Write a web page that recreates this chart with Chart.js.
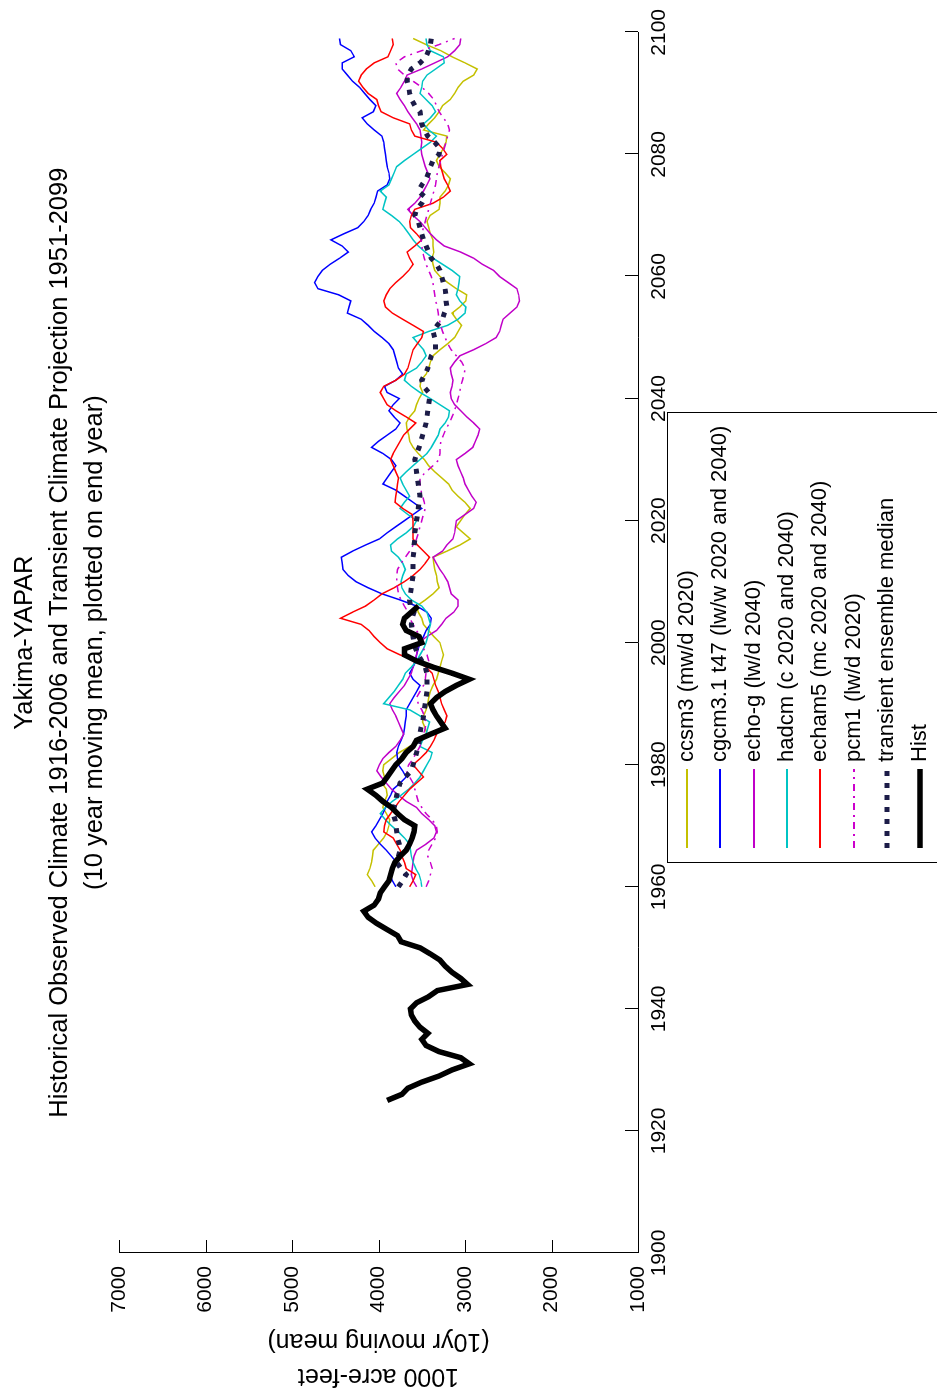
<!DOCTYPE html>
<html>
<head>
<meta charset="utf-8">
<title>Yakima-YAPAR</title>
<script src="https://cdn.jsdelivr.net/npm/chart.js@4/dist/chart.umd.min.js"></script>
<style>
  html, body { margin: 0; padding: 0; background: #fff; }
  #page { width: 937px; height: 1393px; overflow: hidden; position: relative; }
  /* the figure is laid out landscape and turned a quarter counter-clockwise */
  #turn { position: absolute; left: 0; top: 0; width: 1393px; height: 937px;
          transform-origin: 0 0; transform: translate(0, 1393px) rotate(-90deg); }
</style>
</head>
<body>
<div id="page"><div id="turn"><canvas id="chart" width="1393" height="937"></canvas></div></div>
<script>
// observed record, 10 yr moving mean, 1925-2006
const histStart = 1925;
const hist = [
  3900, 3730, 3660, 3500, 3300, 3150, 2950, 3050, 3300, 3450,
  3500, 3430, 3520, 3580, 3620, 3630, 3560, 3420, 3320, 2970,
  3050, 3150, 3230, 3290, 3400, 3520, 3740, 3780, 3900, 4020,
  4120, 4170, 4050, 4000, 3980, 3930, 3880, 3860, 3840, 3810,
  3750, 3680, 3640, 3610, 3590, 3580, 3700, 3780, 3850, 3950,
  4030, 4130, 3950, 3900, 3850, 3800, 3730, 3680, 3600, 3560,
  3400, 3230, 3280, 3330, 3370, 3400, 3330, 3230, 3100, 2950,
  3150, 3370, 3560, 3700, 3700, 3500, 3530, 3680, 3720, 3700,
  3620, 3540
];

// transient projections, 1960-2099
const projStart = 1960;
const ccsm3 = [
  4040, 4080, 4130, 4100, 4080, 4070, 4060, 4000, 3940, 3900,
  3880, 3870, 3910, 3950, 3930, 3900, 3910, 3960, 3930, 3950,
  3940, 3850, 3760, 3640, 3520, 3440, 3460, 3490, 3480, 3450,
  3430, 3420, 3400, 3370, 3330, 3310, 3290, 3270, 3250, 3270,
  3290, 3360, 3420, 3480, 3500, 3540, 3560, 3460, 3370, 3300,
  3320, 3330, 3350, 3360, 3370, 3210, 3060, 2940, 3020, 3100,
  3050, 3000, 2940, 3000, 3080, 3150, 3190, 3270, 3350, 3420,
  3470, 3540, 3600, 3640, 3650, 3670, 3680, 3640, 3580, 3560,
  3530, 3490, 3520, 3510, 3450, 3420, 3400, 3370, 3290, 3200,
  3120, 3080, 3040, 3100, 3150, 3060, 2990, 2980, 3100, 3200,
  3290, 3350, 3370, 3380, 3360, 3370, 3370, 3400, 3420, 3440,
  3405, 3300, 3290, 3290, 3230, 3190, 3170, 3230, 3300, 3330,
  3290, 3250, 3220, 3210, 3480, 3420, 3350, 3300, 3260, 3170,
  3120, 3080, 3020, 2900, 2860, 3000, 3150, 3280, 3450, 3600
];
const cgcm31 = [
  3800, 3840, 3870, 3830, 3790, 3850, 3910, 3980, 4040, 4080,
  4030, 3990, 3950, 3920, 3900, 3860, 3830, 3750, 3680, 3720,
  3770, 3780, 3790, 3770, 3740, 3710, 3700, 3690, 3680, 3680,
  3640, 3600, 3560, 3520, 3600, 3640, 3600, 3570, 3560, 3540,
  3520, 3480, 3450, 3400, 3390, 3440, 3560, 3750, 3960, 4120,
  4260, 4350, 4410, 4420, 4430, 4300, 4150, 3990, 3900, 3800,
  3700, 3600, 3500, 3600, 3700, 3800, 3950, 3900, 3850, 3800,
  3850, 3950, 4080, 4000, 3900, 3800, 3750, 3820, 3880, 3830,
  3760, 3900, 3930, 3800, 3720, 3770, 3790, 3810, 3830, 3880,
  3960, 4050, 4120, 4200, 4360, 4340, 4320, 4460, 4700, 4740,
  4700, 4650, 4560, 4450, 4350, 4420, 4550, 4400, 4240, 4170,
  4120, 4090, 4050, 4030, 4010, 3900, 3870, 3880, 3900, 3910,
  3920, 3930, 3940, 3960, 4050, 4130, 4190, 4060, 4030, 4100,
  4160, 4220, 4300, 4360, 4420, 4420, 4280, 4320, 4440, 4450
];
const echoG = [
  3560, 3600, 3620, 3610, 3600, 3590, 3560, 3450, 3360, 3330,
  3350, 3420, 3500, 3560, 3680, 3770, 3850, 3910, 3970, 4020,
  3990, 3950, 3880, 3800, 3750, 3710, 3740, 3770, 3800, 3840,
  3870, 3820, 3760, 3700, 3660, 3620, 3600, 3580, 3560, 3550,
  3540, 3440, 3330, 3270, 3220, 3130, 3080, 3080, 3160, 3180,
  3200, 3240, 3290, 3330, 3370, 3260, 3210, 3140, 3120, 3110,
  3100, 3000, 2900, 2870, 2920, 2960, 3000, 3020, 3050, 3080,
  3100, 3000, 2910, 2880, 2850, 2830, 2900, 2980, 3050, 3120,
  3160, 3170, 3150, 3140, 3160, 3170, 3120, 3060, 2900, 2760,
  2640, 2600, 2580, 2560, 2480, 2400, 2370, 2380, 2400, 2500,
  2600, 2670, 2800, 2900, 3050, 3240, 3330, 3400, 3460, 3520,
  3600, 3660, 3580, 3520, 3480, 3440, 3405, 3430, 3460, 3480,
  3500, 3510, 3500, 3510, 3520, 3560, 3610, 3660, 3700, 3750,
  3790, 3740, 3700, 3670, 3500, 3350, 3200, 3120, 3060, 3050
];
const hadcm = [
  3500, 3510, 3530, 3570, 3600, 3620, 3630, 3640, 3700, 3770,
  3850, 3920, 3980, 3920, 3840, 3740, 3650, 3580, 3520, 3480,
  3440, 3400, 3380, 3520, 3490, 3450, 3430, 3410, 3520, 3640,
  3940, 3880, 3820, 3770, 3720, 3690, 3620, 3560, 3520, 3480,
  3450, 3430, 3420, 3400, 3420, 3440, 3500, 3620, 3690, 3730,
  3740, 3720, 3690, 3720, 3770, 3850, 3860, 3780, 3680, 3600,
  3560, 3660, 3750, 3700, 3640, 3680, 3720, 3750, 3680, 3600,
  3520, 3440, 3390, 3350, 3310, 3290, 3230, 3190, 3180, 3290,
  3400, 3520, 3620, 3700, 3680, 3560, 3500, 3450, 3480, 3540,
  3600, 3420, 3200, 3080, 3000, 2990, 3060, 3100, 3080, 3070,
  3060, 3150, 3260, 3370, 3460, 3540, 3600, 3650, 3700, 3760,
  3850, 3950, 3930, 3910, 3980, 3880, 3850, 3820, 3790, 3700,
  3600, 3500, 3400, 3330, 3420, 3480, 3400, 3340, 3380, 3450,
  3520, 3500, 3490, 3440, 3340, 3240, 3250, 3400, 3440, 3450
];
const echam5 = [
  3640, 3600, 3570, 3680, 3700, 3730, 3750, 3790, 3830, 3940,
  3930, 3910, 3860, 3810, 3760, 3700, 3640, 3560, 3480, 3540,
  3600, 3520, 3450, 3400, 3360, 3330, 3280, 3230, 3210, 3240,
  3270, 3290, 3310, 3340, 3360, 3380, 3450, 3560, 3750, 3900,
  3980, 4050, 4110, 4200, 4440, 4300, 4150, 4050, 3960, 3820,
  3700, 3600, 3520, 3460, 3410, 3480, 3550, 3600, 3600, 3600,
  3600, 3610, 3720, 3810, 3800, 3790, 3780, 3770, 3800, 3830,
  3860, 3830, 3790, 3750, 3710, 3640, 3570, 3680, 3800, 3900,
  3940, 3980, 3940, 3800, 3700, 3660, 3640, 3620, 3600, 3550,
  3500, 3480, 3600, 3720, 3840, 3920, 3940, 3910, 3870, 3800,
  3720, 3650, 3600, 3640, 3670, 3580, 3500, 3560, 3630, 3640,
  3620, 3580, 3370, 3250, 3170, 3200, 3240, 3260, 3280, 3290,
  3210, 3260, 3330, 3580, 3620, 3640, 3830, 3970, 4000, 4020,
  4120, 4180, 4230, 4200, 4140, 4050, 3890, 3860, 3830, 3840
];
const pcm1 = [
  3450, 3420, 3400, 3380, 3400, 3430, 3420, 3380, 3340, 3320,
  3330, 3380, 3450, 3500, 3540, 3560, 3580, 3600, 3640, 3680,
  3650, 3600, 3560, 3520, 3500, 3480, 3460, 3450, 3470, 3500,
  3540, 3560, 3520, 3480, 3460, 3450, 3430, 3420, 3440, 3480,
  3500, 3520, 3560, 3600, 3640, 3660, 3700, 3740, 3770, 3780,
  3790, 3790, 3780, 3740, 3690, 3640, 3600, 3560, 3540, 3520,
  3500, 3480, 3460, 3470, 3490, 3510, 3520, 3520, 3450, 3370,
  3300, 3290, 3290, 3280, 3250, 3220, 3180, 3150, 3120, 3100,
  3080, 3060, 3050, 3030, 3010, 3000, 3040, 3100, 3160, 3200,
  3230, 3260, 3280, 3300, 3310, 3320, 3340, 3350, 3360, 3370,
  3390, 3420, 3450, 3470, 3490, 3500, 3510, 3500, 3480, 3460,
  3440, 3420, 3400, 3380, 3360, 3340, 3330, 3320, 3300, 3280,
  3260, 3240, 3220, 3200, 3180, 3200, 3250, 3300, 3330, 3360,
  3420, 3500, 3600, 3700, 3780, 3800, 3700, 3500, 3300, 3120
];
const median = [
  3770, 3720, 3680, 3740, 3790, 3770, 3750, 3760, 3780, 3790,
  3800, 3810, 3830, 3820, 3800, 3790, 3770, 3750, 3690, 3620,
  3600, 3580, 3560, 3540, 3530, 3520, 3510, 3490, 3480, 3470,
  3460, 3450, 3440, 3440, 3440, 3440, 3460, 3500, 3540, 3570,
  3590, 3600, 3610, 3620, 3610, 3590, 3630, 3640, 3630, 3620,
  3610, 3600, 3600, 3600, 3600, 3590, 3590, 3580, 3580, 3570,
  3560, 3550, 3540, 3530, 3520, 3530, 3540, 3550, 3560, 3570,
  3580, 3560, 3530, 3510, 3490, 3470, 3450, 3440, 3430, 3420,
  3410, 3420, 3480, 3500, 3460, 3430, 3410, 3390, 3340, 3340,
  3350, 3370, 3320, 3260, 3240, 3210, 3220, 3220, 3230, 3250,
  3270, 3290, 3330, 3390, 3420, 3450, 3480, 3500, 3520, 3540,
  3580, 3560, 3500, 3460, 3540, 3500, 3450, 3420, 3400, 3370,
  3300, 3290, 3350, 3430, 3470, 3500, 3510, 3520, 3580, 3620,
  3640, 3650, 3670, 3660, 3620, 3520, 3450, 3420, 3400, 3390
];

const yearTicks = [1900, 1920, 1940, 1960, 1980, 2000, 2020, 2040, 2060, 2080, 2100];
const valueTicks = [1000, 2000, 3000, 4000, 5000, 6000, 7000];

const FONT = "'Liberation Sans', Arial, sans-serif";

function series(start, values) {
  return values.map((v, i) => ({ x: start + i, y: v }));
}

function line(label, start, values, color, extra) {
  return Object.assign({
    label: label,
    data: series(start, values),
    borderColor: color,
    backgroundColor: color,
    borderWidth: 1.5,
    pointRadius: 0,
    tension: 0,
    fill: false
  }, extra || {});
}

// MATLAB style legend box hanging below the axes
const legendBox = {
  id: 'legendBox',
  afterDraw(chart) {
    const ctx = chart.ctx;
    const left = 530, top = 667, right = 980;
    ctx.save();
    ctx.fillStyle = '#fff';
    ctx.fillRect(left, top, right - left, 300);
    ctx.strokeStyle = '#000';
    ctx.lineWidth = 1;
    ctx.strokeRect(left + 0.5, top + 0.5, right - left, 300);
    ctx.font = '22px ' + FONT;
    ctx.textBaseline = 'middle';
    ctx.textAlign = 'left';
    chart.data.datasets.forEach((ds, i) => {
      const cy = Math.round(687 + i * 33.3);
      ctx.save();
      ctx.strokeStyle = ds.borderColor;
      ctx.lineWidth = Math.max(ds.borderWidth, 2);
      ctx.setLineDash(ds.borderDash || []);
      ctx.beginPath();
      ctx.moveTo(545, cy);
      ctx.lineTo(624, cy);
      ctx.stroke();
      ctx.restore();
      ctx.fillStyle = '#000';
      ctx.fillText(ds.label, 631, cy);
    });
    ctx.restore();
  }
};

// tick marks pointing into the axes
const innerTicks = {
  id: 'innerTicks',
  afterDatasetsDraw(chart) {
    const { ctx, chartArea: a, scales: { x, y } } = chart;
    ctx.save();
    ctx.strokeStyle = '#000';
    ctx.lineWidth = 1;
    ctx.beginPath();
    x.ticks.forEach(t => {
      const px = Math.round(x.getPixelForValue(t.value)) + 0.5;
      ctx.moveTo(px, a.bottom);
      ctx.lineTo(px, a.bottom - 13);
    });
    y.ticks.forEach(t => {
      const py = Math.round(y.getPixelForValue(t.value)) + 0.5;
      ctx.moveTo(a.left, py);
      ctx.lineTo(a.left + 13, py);
    });
    ctx.stroke();
    ctx.restore();
  }
};

Chart.defaults.color = '#000';
Chart.defaults.font.family = FONT;

new Chart(document.getElementById('chart'), {
  type: 'line',
  data: {
    datasets: [
      line('ccsm3 (mw/d 2020)', projStart, ccsm3, '#c4c000', { order: 7 }),
      line('cgcm3.1 t47 (lw/w 2020 and 2040)', projStart, cgcm31, '#0000ff', { order: 6 }),
      line('echo-g (lw/d 2040)', projStart, echoG, '#c000c8', { order: 5 }),
      line('hadcm (c 2020 and 2040)', projStart, hadcm, '#00c4c4', { order: 4 }),
      line('echam5 (mc 2020 and 2040)', projStart, echam5, '#ff0000', { order: 3 }),
      line('pcm1 (lw/d 2020)', projStart, pcm1, '#cc00cc', { order: 2, borderWidth: 1.5, borderDash: [7, 5, 2, 5] }),
      line('transient ensemble median', projStart, median, '#1c1c48', { order: 1, borderWidth: 5, borderDash: [5, 7] }),
      line('Hist', histStart, hist, '#000000', { order: 0, borderWidth: 5.5 })
    ]
  },
  options: {
    responsive: false,
    animation: false,
    devicePixelRatio: 1,
    layout: { padding: { left: 0, right: 25, top: 0, bottom: 0 } },
    plugins: {
      legend: { display: false },
      tooltip: { enabled: false },
      title: {
        display: true,
        fullSize: false,
        text: [
          'Yakima-YAPAR',
          'Historical Observed Climate 1916-2006 and Transient Climate Projection 1951-2099',
          '(10 year moving mean, plotted on end year)'
        ],
        color: '#000',
        font: { size: 25.5, weight: 'normal', lineHeight: 35 / 25.5 },
        padding: { top: 7, bottom: 7 }
      }
    },
    scales: {
      x: {
        type: 'linear',
        min: 1900,
        max: 2100,
        afterBuildTicks: s => { s.ticks = yearTicks.map(v => ({ value: v })); },
        afterFit: s => { s.height = 299; },
        grid: { display: false, drawTicks: false },
        border: { display: true, color: '#000', width: 1 },
        ticks: { autoSkip: false, maxRotation: 0, padding: 9, font: { size: 21 }, callback: v => String(v) }
      },
      y: {
        type: 'linear',
        min: 1000,
        max: 7000,
        afterBuildTicks: s => { s.ticks = valueTicks.map(v => ({ value: v })); },
        afterFit: s => { s.width = 140; },
        grid: { display: false, drawTicks: false },
        border: { display: true, color: '#000', width: 1 },
        ticks: { padding: 13, font: { size: 21 }, callback: v => String(v) },
        title: {
          display: true,
          text: ['1000 acre-feet', '(10yr moving mean)'],
          font: { size: 25, lineHeight: 35 / 25 },
          padding: { top: 0, bottom: 0 }
        }
      }
    }
  },
  plugins: [innerTicks, legendBox]
});
</script>
</body>
</html>
